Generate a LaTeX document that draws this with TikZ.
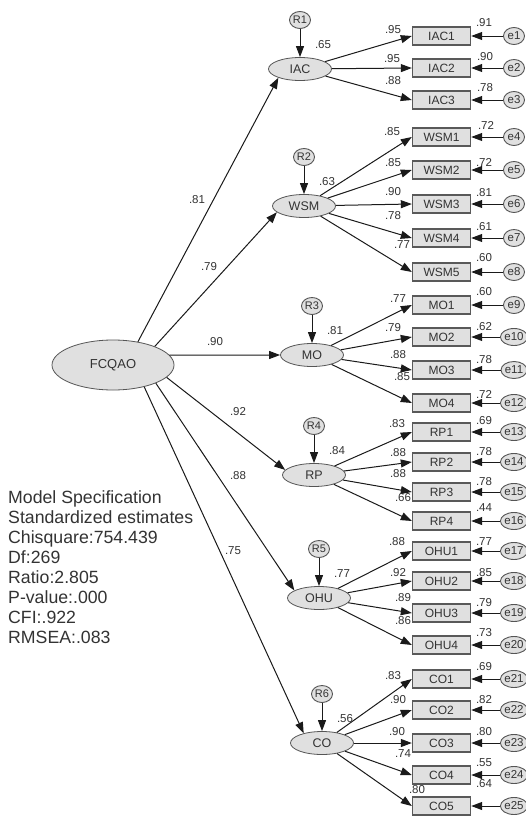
\documentclass[tikz,border=0pt]{standalone}
\usepackage{fontspec}
\setmainfont{Liberation Sans}
\usetikzlibrary{shapes.geometric,arrows.meta}
\definecolor{fillg}{HTML}{E0E0E0}
\definecolor{edgec}{HTML}{555555}
\definecolor{txt}{HTML}{333333}
\definecolor{lnc}{HTML}{1A1A1A}
\begin{document}
\begin{tikzpicture}[x=1pt,y=-1pt,
  lat/.style={ellipse,draw=edgec,fill=fillg,line width=0.8pt,minimum width=63pt,minimum height=23pt,inner sep=0pt,text=txt,font=\fontsize{12.5}{14}\selectfont},
  obs/.style={rectangle,draw=black!65,fill=fillg,line width=1.4pt,minimum width=58pt,minimum height=18pt,inner sep=0pt,text=txt,font=\fontsize{12}{14}\selectfont},
  err/.style={ellipse,draw=edgec,fill=fillg,line width=0.9pt,minimum width=21pt,minimum height=17pt,inner sep=0pt,text=txt,font=\fontsize{11.5}{13}\selectfont},
  arr/.style={draw=lnc,line width=1pt,-{Triangle[length=11pt,width=8pt]}},
  lbl/.style={inner sep=0pt,text=txt,font=\fontsize{11.5}{13}\selectfont}]
\path[use as bounding box,fill=white] (0,0) rectangle (525,819);

% main latent
\node[lat,minimum width=122pt,minimum height=50pt,font=\fontsize{13}{15}\selectfont] (FCQAO) at (113,365) {FCQAO};

% first-order latents and residuals
\foreach \n/\x/\y/\r in {IAC/300/69/R1, WSM/304/206/R2, MO/312/355/R3, RP/314/475/R4, OHU/319/598/R5, CO/322/743/R6}{
  \node[lat] (\n) at (\x,\y) {\n};
  \node[err,font=\fontsize{11}{13}\selectfont] (\r) at (\x,\y-49) {\r};
  \draw[arr] (\r) -- (\n);
}

% indicators and errors
\foreach \n/\y/\k in {IAC1/36/1, IAC2/68/2, IAC3/100/3,
  WSM1/137/4, WSM2/170/5, WSM3/204/6, WSM4/238/7, WSM5/272/8,
  MO1/305/9, MO2/337/10, MO3/370/11, MO4/403/12,
  RP1/432/13, RP2/462/14, RP3/492/15, RP4/521/16,
  OHU1/551/17, OHU2/581/18, OHU3/613/19, OHU4/645/20,
  CO1/679/21, CO2/710/22, CO3/743/23, CO4/775/24, CO5/806/25}{
  \node[obs] (\n) at (441.5,\y) {\n};
  \node[err] (e\k) at (514,\y) {e\k};
  \draw[arr] (e\k) -- (\n);
}

% loadings latent -> indicators
\foreach \a/\b in {IAC/IAC1, IAC/IAC2, IAC/IAC3,
  WSM/WSM1, WSM/WSM2, WSM/WSM3, WSM/WSM4, WSM/WSM5,
  MO/MO1, MO/MO2, MO/MO3, MO/MO4,
  RP/RP1, RP/RP2, RP/RP3, RP/RP4,
  OHU/OHU1, OHU/OHU2, OHU/OHU3, OHU/OHU4,
  CO/CO1, CO/CO2, CO/CO3, CO/CO4, CO/CO5}{
  \draw[arr] (\a) -- (\b.west);
}

% second-order paths
\draw[arr] (FCQAO.43) -- (IAC.202);
\draw[arr] (FCQAO.24) -- (WSM.193);
\draw[arr] (FCQAO.10) -- (MO.west);
\draw[arr] (FCQAO.-13) -- (RP.170);
\draw[arr] (FCQAO.-23) -- (OHU.163);
\draw[arr] (FCQAO.-35) -- (CO.152);

% labels
\foreach \x/\y/\t [count=\i] in {
  197/200/.81, 209/267/.79, 215/342/.90, 238/412/.92, 238/476/.88, 233/551/.75,
  323/45/.65, 327/182/.63, 335/331/.81, 337/451/.84, 342/574/.77, 345/719/.56,
  393/30/.95, 392/59/.95, 393/81/.88,
  484/23/.91, 485/57/.90, 485/88/.78,
  392/132/.85, 393/163/.85, 393/192/.90, 393/216/.78, 402/245/.77,
  486/125/.72, 484/162/.72, 484/193/.81, 484/227/.61, 484/258/.60,
  398/299/.77, 393/328/.79, 398/355/.88, 402/377/.85,
  484/292/.60, 484/327/.62, 484/360/.78, 484/394/.72,
  397/424/.83, 398/453/.88, 398/474/.88, 403/498/.66,
  484/421/.69, 484/452/.78, 484/482/.78, 484/508/.44,
  397/542/.88, 398/573/.92, 403/598/.89, 403/621/.86,
  484/542/.77, 484/573/.85, 484/603/.79, 484/633/.73,
  393/676/.83, 398/700/.90, 397/732/.90, 403/754/.74, 417/790/.80,
  484/667/.69, 484/700/.82, 484/732/.80, 484/763/.55, 484/784/.64}{
  \node[lbl] (lab\i) at (\x,\y) {\t};
}

% model text
\node[anchor=north west,inner sep=0pt,align=left,text=txt,font=\fontsize{17.7}{20}\selectfont] (spec) at (8,490)
  {Model Specification\\Standardized estimates\\Chisquare:754.439\\Df:269\\Ratio:2.805\\P-value:.000\\CFI:.922\\RMSEA:.083};
\end{tikzpicture}
\end{document}
